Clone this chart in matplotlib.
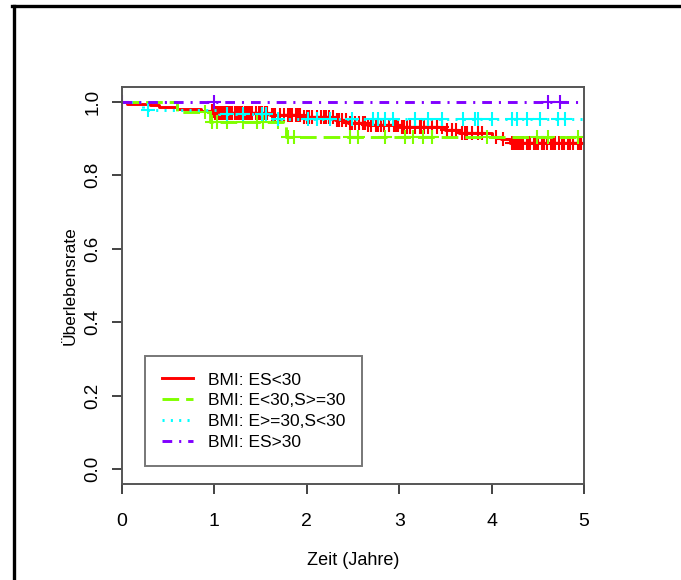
import numpy as np
import matplotlib
matplotlib.use('Agg')
import matplotlib.pyplot as plt
from matplotlib.lines import Line2D

plt.rcParams['font.family'] = ['Liberation Sans', 'DejaVu Sans']
plt.rcParams['lines.scale_dashes'] = False

# Kaplan-Meier steps: event times and survival after each event, plus censoring times
red_t = [0.0, 0.05, 0.30, 0.40, 0.60, 0.85, 1.00, 1.60, 1.95, 2.30, 2.45, 2.65, 3.00, 3.50, 3.65, 4.00, 4.10, 4.20]
red_s = [1.0, 0.995, 0.99, 0.985, 0.98, 0.975, 0.97, 0.965, 0.958, 0.95, 0.943, 0.937, 0.932, 0.924, 0.916, 0.905, 0.898, 0.888]
red_c = [0.97, 0.99, 1.01, 1.03, 1.04, 1.06, 1.07, 1.09, 1.10, 1.12, 1.13, 1.15, 1.17, 1.19, 1.22, 1.24,
         1.26, 1.28, 1.30, 1.33, 1.35, 1.37, 1.39, 1.41, 1.45, 1.48, 1.50, 1.52, 1.55, 1.57, 1.62, 1.64,
         1.66, 1.71, 1.75, 1.80, 1.82, 1.84, 1.88, 1.91, 1.93, 1.97, 2.00, 2.02, 2.06, 2.11, 2.15, 2.19,
         2.21, 2.24, 2.28, 2.33, 2.35, 2.38, 2.42, 2.47, 2.49, 2.52, 2.57, 2.61, 2.63, 2.66, 2.70, 2.75,
         2.77, 2.80, 2.84, 2.89, 2.94, 2.96, 2.99, 3.03, 3.05, 3.08, 3.12, 3.17, 3.22, 3.24, 3.27, 3.31,
         3.36, 3.41, 3.46, 3.52, 3.57, 3.62, 3.68, 3.71, 3.73, 3.79, 3.85, 3.90, 4.05, 4.12, 4.22, 4.24,
         4.26, 4.28, 4.30, 4.32, 4.34, 4.38, 4.40, 4.42, 4.46, 4.48, 4.50, 4.55, 4.57, 4.60, 4.64, 4.66,
         4.69, 4.73, 4.76, 4.78, 4.83, 4.85, 4.88, 4.93, 4.95, 4.97]

green_t = [0.0, 0.60, 0.95, 1.78]
green_s = [1.0, 0.973, 0.945, 0.903]
green_c = [0.90, 0.97, 1.03, 1.14, 1.31, 1.46, 1.53, 1.69, 1.80, 1.86, 2.47, 2.55, 2.85, 3.06, 3.15,
           3.26, 3.35, 3.95, 4.49, 4.61, 4.94]

cyan_t = [0.0, 0.23, 1.05, 1.60]
cyan_s = [1.0, 0.978, 0.966, 0.953]
cyan_c = [0.28, 1.14, 1.31, 1.51, 1.56, 1.69, 2.01, 2.11, 2.25, 2.49, 2.72, 2.77, 2.85, 2.93, 3.17,
          3.31, 3.46, 3.69, 3.82, 3.85, 4.00, 4.22, 4.27, 4.38, 4.52, 4.72, 4.79]

purple_t = [0.0]
purple_s = [1.0]
purple_c = [0.0, 1.0, 4.61, 4.74]

labels = ['BMI: ES<30', 'BMI: E<30,S>=30', 'BMI: E>=30,S<30', 'BMI: ES>30']
colors = ['#FF0000', '#80FF00', '#00FFFF', '#8000FF']
styles = ['-', (0, (12, 5)), (0, (1.5, 4.5)), (0, (7, 5, 1.5, 5))]

groups = [(red_t, red_s, red_c), (green_t, green_s, green_c),
          (cyan_t, cyan_s, cyan_c), (purple_t, purple_s, purple_c)]

fig = plt.figure(figsize=(6.81, 5.8), dpi=100)
ax = fig.add_axes([122/681, 1-484/580, (584-122)/681, (484-87)/580])

for (t, s, c), col, ls, lab in zip(groups, colors, styles, labels):
    t = np.array(t + [5.0])
    s = np.array(s + [s[-1]])
    ax.step(t, s, where='post', color=col, ls=ls, lw=2.1, label=lab)
    c = np.array(c)
    idx = np.searchsorted(t[:-1], c, side='right') - 1
    ax.plot(c, s[idx], ls='none', marker='+', ms=10, mew=1.5, color=col)

ax.set_xlim(0, 5)
ax.set_ylim(-0.04, 1.04)
ax.set_xticks(range(6))
ax.set_yticks([0.0, 0.2, 0.4, 0.6, 0.8, 1.0])
ax.set_yticklabels(['0.0', '0.2', '0.4', '0.6', '0.8', '1.0'], rotation=90, va='center')
ax.tick_params(axis='y', length=7, width=1.2, color='#222222', labelsize=13.5, pad=8)
ax.tick_params(axis='x', length=7, width=1.2, color='#222222', labelsize=14, pad=14)
for sp in ax.spines.values():
    sp.set_color('#555555')
    sp.set_linewidth(1.4)

ax.set_xlabel('Zeit (Jahre)', fontsize=13, labelpad=16)
ax.set_ylabel('Überlebensrate', fontsize=12.5, labelpad=5)

leg = ax.legend(loc='lower left', bbox_to_anchor=(0.05, 0.045), fancybox=False,
                edgecolor='#555555', fontsize=12.5, handlelength=1.8, handletextpad=0.9,
                labelspacing=0.32, borderpad=0.95, borderaxespad=0)
leg.get_frame().set_linewidth(1.4)

# frame around the figure
fig.add_artist(Line2D([13.5/681, 13.5/681], [0, 1-6/580], color='black', lw=2.4))
fig.add_artist(Line2D([13.5/681 - 1.2/681, 1], [1-6/580, 1-6/580], color='black', lw=2.4))

fig.savefig('out.png', dpi=100)
